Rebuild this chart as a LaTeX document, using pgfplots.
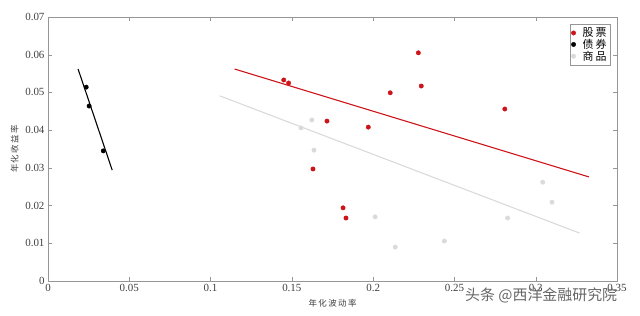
\documentclass[border=0pt]{standalone}
\usepackage{pgfplots}
\pgfplotsset{compat=1.18}
\usepackage{fontspec}
\setmainfont{Liberation Serif}
\newfontfamily\cjk{Noto Sans CJK SC}
\definecolor{stockred}{RGB}{205,20,25}
\definecolor{commgray}{RGB}{218,218,218}
\definecolor{framegray}{RGB}{150,150,150}
\begin{document}
\begin{tikzpicture}[x=1bp,y=1bp]
\path[use as bounding box] (-48bp,-35bp) rectangle (592bp,281bp);
\begin{axis}[
  at={(0,0)}, anchor=south west,
  scale only axis,
  width=569bp, height=264bp,
  xmin=0, xmax=0.35, ymin=0, ymax=0.07,
  xtick={0,0.05,0.1,0.15,0.2,0.25,0.3,0.35},
  ytick={0,0.01,0.02,0.03,0.04,0.05,0.06,0.07},
  scaled ticks=false,
  /pgf/number format/assume math mode=true,
  xticklabel style={font=\fontsize{11}{12}\selectfont, text=black!75},
  yticklabel style={font=\fontsize{11}{12}\selectfont, text=black!75},
  yticklabel={\ifdim\tick pt=0pt 0\else\pgfmathprintnumber[fixed,fixed zerofill,precision=2]{\tick}\fi},
  xticklabel={\ifdim\tick pt=0pt 0\else\pgfmathprintnumber[fixed,precision=2]{\tick}\fi},
  tick align=inside,
  major tick length=4bp,
  axis line style={framegray},
  tick style={framegray},
  xlabel={\cjk 年\,化\,波\,动\,率},
  ylabel={\cjk 年\,化\,收\,益\,率},
  xlabel style={font=\fontsize{8.5}{10}\selectfont, text=black!75, yshift=-1bp},
  ylabel style={font=\fontsize{8.5}{10}\selectfont, text=black!75, yshift=0bp},
  legend style={at={(0.988,0.973)}, anchor=north east, draw=framegray, font=\cjk\fontsize{11}{12}\selectfont, inner sep=1.5bp, row sep=-3bp, cells={anchor=west}},
  legend image code/.code={\draw[#1, mark size=2.2bp] plot coordinates {(0.12cm,0cm)};},
  legend cell align=left,
]
\addplot[only marks, mark=*, mark size=2.2bp, color=stockred] coordinates {
 (0.145,0.0533) (0.148,0.0525) (0.1716,0.0424) (0.163,0.0297) (0.197,0.0408)
 (0.2105,0.0499) (0.2278,0.0605) (0.2296,0.0517) (0.281,0.0456) (0.1815,0.0194) (0.1833,0.0167)
};
\addlegendentry{\hspace{5bp}股\,票}
\addplot[only marks, mark=*, mark size=2.2bp, color=black] coordinates {
 (0.0235,0.0514) (0.0253,0.0464) (0.034,0.0345)
};
\addlegendentry{\hspace{5bp}债\,券}
\addplot[only marks, mark=*, mark size=2.2bp, color=commgray] coordinates {
 (0.1556,0.0406) (0.1623,0.0427) (0.1636,0.0347) (0.2012,0.0170) (0.2136,0.0090)
 (0.2438,0.0106) (0.2827,0.0167) (0.3043,0.0262) (0.3100,0.0209)
};
\addlegendentry{\hspace{5bp}商\,品}
\addplot[black, line width=1.1pt, forget plot] coordinates {(0.0185,0.0562) (0.0395,0.0294)};
\addplot[stockred, line width=1.1pt, forget plot] coordinates {(0.1148,0.0562) (0.3327,0.0276)};
\addplot[commgray, line width=1.1pt, forget plot] coordinates {(0.1056,0.0491) (0.3270,0.0127)};
\end{axis}
\node[anchor=west, text=black!60, inner sep=0pt, font=\cjk\fontsize{15}{17}\selectfont] at (417bp,-14bp) {头条 @西洋金融研究院};
\end{tikzpicture}
\end{document}
